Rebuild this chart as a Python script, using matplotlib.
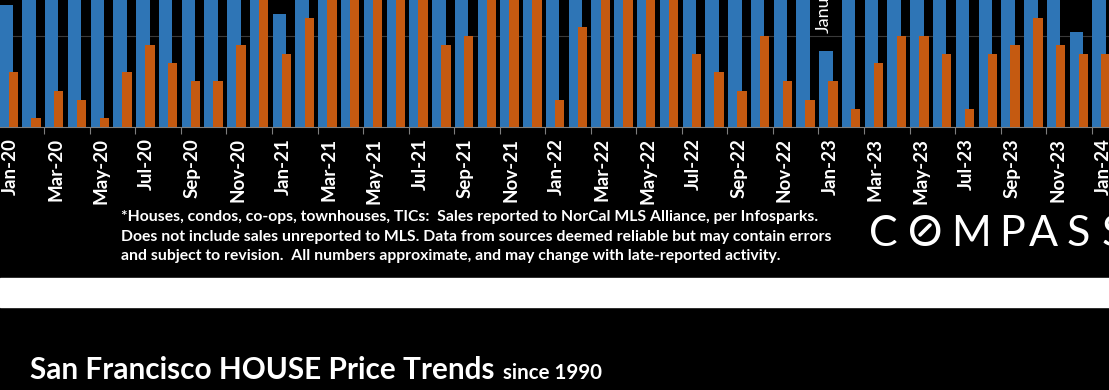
import numpy as np
import pandas as pd
import matplotlib
matplotlib.use("Agg")
import matplotlib.pyplot as plt
from matplotlib.patches import Rectangle
from matplotlib.lines import Line2D

plt.rcParams['font.family'] = ['Lato', 'DejaVu Sans']

# monthly categories Jan-20 .. Jan-24
months = [d.strftime('%b-%y') for d in pd.date_range('2020-01-01', '2024-01-01', freq='MS')]

# blue series (most bars run off the top of the crop)
blue = [13.4, 22, 24, 21, 23, 26, 28, 27, 25, 24, 26, 18,
        12.4, 24, 30, 32, 31, 29, 27, 24, 26, 28, 27, 22,
        19, 27, 31, 33, 30, 28, 25, 22, 23, 25, 21, 17,
        8.4, 19, 24, 26, 27, 25, 22, 23, 25, 24, 21, 10.4,
        16]
# orange series
orange = [6, 1, 4, 3, 1, 6, 9, 7, 5, 5, 9, 16,
          8, 12, 18, 20, 19, 17, 15, 9, 10, 17, 18, 15,
          3, 11, 19, 21, 18, 16, 8, 6, 4, 10, 5, 3,
          5, 2, 7, 10, 10, 8, 2, 8, 9, 12, 9, 8,
          8]

footnote = ["*Houses, condos, co-ops, townhouses, TICs:  Sales reported to NorCal MLS Alliance, per Infosparks.",
            "Does not include sales unreported to MLS. Data from sources deemed reliable but may contain errors",
            "and subject to revision.  All numbers approximate, and may change with late-reported activity."]

W, H = 1109, 390
BLUE = '#2E75B6'
ORANGE = '#C55A11'

def fx(px): return px / W
def fy(py): return 1 - py / H

fig = plt.figure(figsize=(W / 100, H / 100), dpi=100, facecolor='black')
ax = fig.add_axes([0, fy(127), 1, 127 / H])
ax.set_facecolor('black')

x = np.arange(len(months))
ax.bar(x - 0.175, blue, width=0.59, color=BLUE, zorder=2)
ax.bar(x + 0.135, orange, width=0.41, color=ORANGE, zorder=3)

ax.set_xlim(-0.446, 48.26)
ax.set_ylim(0, 13.95)
ax.set_yticks([10])
ax.yaxis.grid(True, color='#3a3a3a', lw=0.8, zorder=0)
ax.set_axisbelow(True)
ax.tick_params(axis='y', length=0, labelleft=False)

ax.set_xticks(x[::2], months[::2], rotation=90, color='white', fontsize=13.5, fontweight='bold')
ax.tick_params(axis='x', which='major', length=0, pad=8)
ax.set_xticks(np.arange(1.5, 48, 2), minor=True)
ax.tick_params(axis='x', which='minor', length=5, color='#7f7f7f', width=0.8)
for s in ['top', 'left', 'right']:
    ax.spines[s].set_visible(False)
ax.spines['bottom'].set_color('#7f7f7f')
ax.spines['bottom'].set_linewidth(0.8)

ax.text(35.72, 10.3, "January", rotation=90, ha='center', va='bottom', color='white', fontsize=13)

# footnote
for i, line in enumerate(footnote):
    fig.text(fx(121), fy(221 + i * 19.6), line, color='white', fontsize=11.3, fontweight='bold', va='baseline')

# logo
for ch, cx in zip("COMPASS", [883.5, 925, 971, 1012, 1043, 1078, 1113]):
    fig.text(fx(cx), fy(246), ch, color='white', fontsize=31, ha='center', va='baseline')
fig.add_artist(Line2D([fx(920), fx(930)], [fy(235), fy(225)], color='white', lw=2.6,
                      solid_capstyle='round', transform=fig.transFigure))

# white band between slides
fig.add_artist(Rectangle((0, fy(307)), 1, 29 / H, color='white', transform=fig.transFigure))

fig.text(fx(30), fy(379), "San Francisco HOUSE Price Trends", color='white', fontsize=21.4,
         fontweight='bold', va='baseline')
fig.text(fx(503), fy(379), "since 1990", color='white', fontsize=14.8, fontweight='bold', va='baseline')

fig.savefig('out.png', dpi=100, facecolor='black')
